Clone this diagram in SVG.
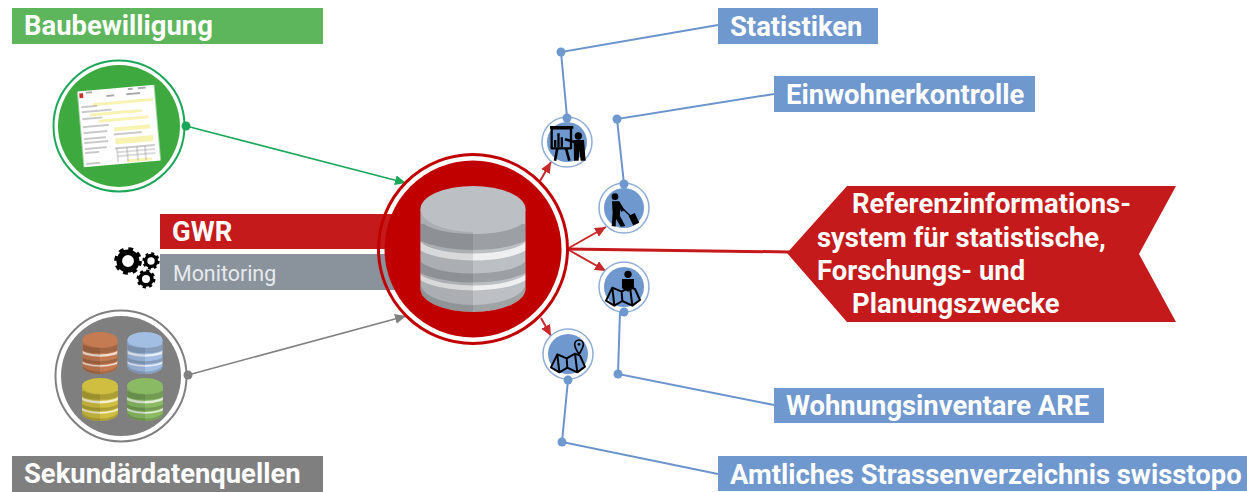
<svg xmlns="http://www.w3.org/2000/svg" width="1247" height="492" viewBox="0 0 1247 492">
<style>
text{font-family:Roboto,"Liberation Sans",sans-serif;font-weight:700;font-size:27.4px;fill:#fff}
.blue{fill:#6f98cf}
.bl{fill:none;stroke:#6b94cc;stroke-width:2}
.dot{fill:#6f98cf}
.ring{fill:#fff;stroke:#8fadd6;stroke-width:1.5}
.disc{fill:#6f98cf}
.ar{fill:none;stroke:#c8282a;stroke-width:2;marker-end:url(#mr)}
.k{fill:#000}
.ks{fill:none;stroke:#000;stroke-linejoin:round}
</style>
<defs>
<filter id="soft" x="-5%" y="-5%" width="110%" height="110%"><feGaussianBlur stdDeviation=".45"/></filter>
<clipPath id="dbclip"><path d="M0 23V103A52.5 23 0 0 0 105 103V23Z"/></clipPath>
<marker id="mr" markerUnits="userSpaceOnUse" markerWidth="12" markerHeight="12" refX="11" refY="5" orient="auto"><path d="M0 0L11 5L0 10Z" fill="#c8282a"/></marker>
<marker id="mg" markerUnits="userSpaceOnUse" markerWidth="12" markerHeight="12" refX="11" refY="5" orient="auto"><path d="M0 0L11 5L0 10Z" fill="#1ba75a"/></marker>
<marker id="mk" markerUnits="userSpaceOnUse" markerWidth="12" markerHeight="12" refX="11" refY="5" orient="auto"><path d="M0 0L11 5L0 10Z" fill="#808080"/></marker>
<symbol id="db" viewBox="0 0 105 126" overflow="visible">
<path d="M0 23V103A52.5 23 0 0 0 105 103V23Z"/>
<g clip-path="url(#dbclip)">
<path d="M-5 38A57.500 18 0 0 0 110 38" fill="none" stroke="#000" stroke-opacity=".17" stroke-width="16"/>
<path d="M-5 53A57.500 18 0 0 0 110 53" fill="none" stroke="#fff" stroke-opacity=".75" stroke-width="7"/>
<path d="M-5 74A57.500 18 0 0 0 110 74" fill="none" stroke="#000" stroke-opacity=".17" stroke-width="9"/>
<path d="M-5 84A57.500 18 0 0 0 110 84" fill="none" stroke="#fff" stroke-opacity=".75" stroke-width="5"/>
<path d="M0 103A52.5 23 0 0 0 105 103V97A52.5 22 0 0 1 0 97Z" fill="#000" fill-opacity=".15"/>
<path d="M0 23H52.500V126H0Z" fill="#000" fill-opacity=".09"/>
</g>
<ellipse cx="52.5" cy="23" rx="52.5" ry="23"/>
</symbol>
<g id="map">
<path class="ks" stroke-width="6" d="M63 337L82 298L110 310L135 296L150 302L165 335L142 352L112 338L88 352ZM82 298L88 352M110 310L112 338M135 296L142 352"/>
</g>
<g id="gear"><circle r="7" fill="none" stroke="#000" stroke-width="4.5"/><circle r="9.3" fill="none" stroke="#000" stroke-width="3.6" stroke-dasharray="3.65 3.65"/></g>
</defs>

<g id="connectors">
<path d="M186 126L406 183" fill="none" stroke="#1ba75a" stroke-width="1.5" marker-end="url(#mg)"/>
<path d="M188 375L406 316" fill="none" stroke="#808080" stroke-width="1.5" marker-end="url(#mk)"/>
<path class="bl" d="M567 117L561 52L718 25"/>
<path class="bl" d="M624 184L617 119L774 94"/>
<path class="bl" d="M620 312L618 374L774 405"/>
<path class="bl" d="M568 380L562 442L718 474"/>
<path class="ar" d="M540 181L551 162"/>
<path class="ar" d="M567 249L606 227"/>
<path class="ar" d="M567 249L606 271"/>
<path class="ar" d="M541 318L551 336"/>
<path d="M567 249L790 252" fill="none" stroke="#c51a1b" stroke-width="3"/>
</g>

<g id="baubewilligung"><rect x="12" y="8" width="311" height="36" fill="#5db65b"/><text x="24" y="35">Baubewilligung</text></g>

<g id="bau-circle">
<circle cx="119" cy="126" r="65.500" fill="#fff" stroke="#1ba75a" stroke-width="2"/>
<circle cx="119" cy="126" r="61" fill="#3da93f"/>
<circle cx="186" cy="126" r="4.500" fill="#1ba75a"/>
<g transform="translate(119 126) rotate(-5)" filter="url(#soft)">
<rect x="-38.500" y="-38" width="77" height="76" fill="#fff"/>
<rect x="-37" y="-36" width="4" height="5" fill="#c8362a"/>
<path d="M-30-36h6M12-36h5M22-36h8M-10-31h8M10-31h14" stroke="#555" stroke-width="1.2"/>
<g fill="#f8f3b0"><rect x="-24" y="-25" width="60" height="3"/><rect x="-28" y="-15" width="52" height="3"/><rect x="-20" y="-8" width="50" height="3"/><rect x="-5" y="1" width="36" height="4"/><rect x="-5" y="12" width="38" height="6"/><rect x="5" y="34" width="25" height="3"/></g>
<path d="M-36-22h16M-36-17h30M-36-10h20M-36-2h26M-36 4h24M-6 8h28M-36 10h22M-36 14h24M-36 20h22M-36 24h14M-6 22h40M-36 35h14" stroke="#777" stroke-width=".8"/>
<path d="M-4 22v14M6 22v14M16 22v14M24 22v14M-4 26h38M-4 30h38" stroke="#888" stroke-width=".6"/>
</g>
</g>

<g id="gwr"><rect x="160" y="214" width="235" height="35" fill="#c51a1b"/><text x="172" y="241">GWR</text></g>
<g id="monitoring"><rect x="160" y="254" width="235" height="36" fill="#8a929b"/><text x="173" y="281" style="font-weight:400;font-size:21.4px;fill:#e6eaee">Monitoring</text></g>
<g id="gears">
<use href="#gear" transform="translate(128 261) scale(1.25)"/>
<use href="#gear" transform="translate(151 261) scale(.78)"/>
<use href="#gear" transform="translate(146 279) scale(.85)"/>
</g>

<g id="sources-circle">
<circle cx="121" cy="376" r="65.500" fill="#fff" stroke="#808080" stroke-width="2"/>
<circle cx="121" cy="376" r="60" fill="#7f7f7f"/>
<circle cx="188" cy="375" r="4.500" fill="#808080"/>
<use href="#db" x="82" y="332" width="36" height="42" fill="#c47b52"/>
<use href="#db" x="127" y="332" width="36" height="42" fill="#a2bee3"/>
<use href="#db" x="82" y="378" width="36" height="43" fill="#cfbe40"/>
<use href="#db" x="127" y="378" width="36" height="43" fill="#8abb64"/>
</g>

<g id="sekundaer"><rect x="12" y="456" width="311" height="36" fill="#7f7f7f"/><text x="24" y="483">Sekundärdatenquellen</text></g>

<g id="central">
<circle cx="473" cy="249" r="94.500" fill="none" stroke="#c00000" stroke-width="3"/>
<circle cx="473" cy="249" r="88.500" fill="#c00000"/>
<use href="#db" x="420.500" y="186" width="105" height="126" fill="#bcc0c4"/>
</g>

<g id="icon-presentation">
<circle class="ring" cx="567" cy="142" r="25"/><circle class="disc" cx="567" cy="142" r="20"/><circle class="dot" cx="567" cy="118" r="4.500"/>
<g transform="translate(530 110) scale(.3333)">
<rect x="65" y="55" width="58" height="60" class="ks" stroke-width="7"/>
<path class="k" d="M60 48H130V56H60ZM72 90h7v22h-7ZM82 70h7v42h-7ZM92 82h7v30h-7Z"/>
<path class="ks" stroke-width="8" d="M82 115L75 152M108 115L118 152"/>
<circle class="k" cx="145" cy="78" r="11"/>
<path class="k" d="M131 90L162 90L167 152L152 152L148 120L146 152L132 152Z"/>
<path class="ks" stroke-width="8" d="M134 96L105 88"/>
</g></g>

<g id="icon-traveller">
<circle class="ring" cx="624" cy="208" r="25"/><circle class="disc" cx="624" cy="208" r="20"/><circle class="dot" cx="624" cy="184" r="4.500"/>
<g transform="translate(530 110) scale(.3333)">
<circle class="k" cx="255" cy="260" r="10"/>
<path class="k" d="M246 274L268 274L284 300L274 306L270 298L270 318L286 348L272 350L258 326L257 350L245 348L248 310Z"/>
<path class="ks" stroke-width="4" d="M280 298L305 322"/>
<rect class="k" x="302" y="312" width="20" height="32" transform="rotate(-25 312 328)"/>
</g></g>

<g id="icon-person-map">
<circle class="ring" cx="624" cy="287" r="25"/><circle class="disc" cx="624" cy="287" r="20"/><circle class="dot" cx="624" cy="312" r="4.500"/>
<g transform="translate(530 255) scale(.3333)">
<use href="#map" transform="translate(165 -200)"/>
<circle class="k" cx="294" cy="58" r="11"/>
<path class="k" d="M276 72H312V100L294 110L276 100Z"/>
</g></g>

<g id="icon-map-pin">
<circle class="ring" cx="568" cy="354" r="25"/><circle class="disc" cx="568" cy="354" r="20"/><circle class="dot" cx="568" cy="380" r="4.500"/>
<g transform="translate(530 255) scale(.3333)">
<use href="#map"/>
<path class="ks" stroke-width="5" d="M147 298C140 286 134 278 134 268A13 13 0 0 1 160 268C160 278 154 286 147 298Z"/>
<circle class="k" cx="147" cy="268" r="4"/>
</g></g>

<g id="statistiken"><circle class="dot" cx="561" cy="52" r="4.500"/><rect x="718" y="8" width="160" height="36" class="blue"/><text x="730" y="36">Statistiken</text></g>
<g id="einwohner"><circle class="dot" cx="617" cy="119" r="4.500"/><rect x="774" y="76" width="261" height="36" class="blue"/><text x="786" y="104">Einwohnerkontrolle</text></g>
<g id="wohnung"><circle class="dot" cx="618" cy="374" r="4.500"/><rect x="774" y="388" width="330" height="35" class="blue"/><text x="786" y="415">Wohnungsinventare ARE</text></g>
<g id="amtlich"><circle class="dot" cx="562" cy="442" r="4.500"/><rect x="718" y="456" width="529" height="35" class="blue"/><text x="730" y="484">Amtliches Strassenverzeichnis swisstopo</text></g>

<g id="referenz">
<path d="M847 186H1176L1139 254L1176 322H847L787 253Z" fill="#c51a1b"/>
<text x="852" y="213">Referenzinformations-</text>
<text x="817" y="247">system für statistische,</text>
<text x="817" y="280">Forschungs- und</text>
<text x="852" y="313">Planungszwecke</text>
</g>
</svg>
